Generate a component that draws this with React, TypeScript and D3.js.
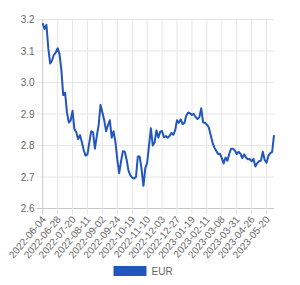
import * as d3 from 'd3';
import React, { useRef, useEffect } from 'react';

// EUR rate (roughly every other business day)
const eurValues: number[] = [
    3.188, 3.17, 3.183, 3.109, 3.06, 3.07, 3.088, 3.095, 3.109, 3.09,
    3.04, 2.96, 2.968, 2.905, 2.873, 2.88, 2.91, 2.852, 2.842, 2.82,
    2.833, 2.81, 2.785, 2.768, 2.772, 2.81, 2.845, 2.842, 2.79, 2.83,
    2.865, 2.929, 2.905, 2.88, 2.845, 2.865, 2.88, 2.825, 2.845, 2.81,
    2.755, 2.712, 2.75, 2.782, 2.78, 2.755, 2.72, 2.705, 2.698, 2.695,
    2.7, 2.765, 2.765, 2.725, 2.672, 2.728, 2.745, 2.8, 2.855, 2.8,
    2.81, 2.848, 2.825, 2.844, 2.846, 2.826, 2.83, 2.825, 2.83, 2.84,
    2.834, 2.848, 2.88, 2.872, 2.883, 2.868, 2.872, 2.895, 2.905, 2.902,
    2.897, 2.9, 2.89, 2.884, 2.89, 2.918, 2.873, 2.872, 2.866, 2.858,
    2.835, 2.81, 2.794, 2.783, 2.773, 2.774, 2.76, 2.743, 2.762, 2.752,
    2.773, 2.79, 2.79, 2.784, 2.773, 2.78, 2.774, 2.76, 2.772, 2.762,
    2.756, 2.757, 2.75, 2.758, 2.733, 2.744, 2.75, 2.752, 2.78, 2.754,
    2.745, 2.767, 2.776, 2.78, 2.833,
];

const dateLabels: string[] = [
    '2022-06-04', '2022-06-28', '2022-07-20', '2022-08-11', '2022-09-02',
    '2022-09-24', '2022-10-19', '2022-11-10', '2022-12-03', '2022-12-27',
    '2023-01-19', '2023-02-11', '2023-03-08', '2023-03-31', '2023-04-26',
    '2023-05-20',
];
const labelStep = 8; // one date label every 8 points

const yTicks: number[] = [2.6, 2.7, 2.8, 2.9, 3.0, 3.1, 3.2];
const seriesName = 'EUR';

const width = 300;
const height = 285;
const lineColor = '#2256bd';

export default function App() {
    const ref = useRef<SVGSVGElement | null>(null);

    useEffect(() => {
        const svg = d3.select(ref.current);
        svg.selectAll('*').remove();

        const m = { left: 42.7, right: 274, top: 19.5, bottom: 208.5 };

        const x = d3
            .scaleLinear()
            .domain([0, eurValues.length - 1])
            .range([m.left, m.right]);
        const y = d3.scaleLinear().domain([2.6, 3.2]).range([m.bottom, m.top]);

        const font = 'Arial, "Liberation Sans", sans-serif';
        const tickIdx = dateLabels.map((_, i) => i * labelStep);

        // horizontal grid
        svg.append('g')
            .selectAll('line')
            .data(yTicks)
            .join('line')
            .attr('x1', m.left - 6)
            .attr('x2', m.right)
            .attr('y1', (d) => y(d))
            .attr('y2', (d) => y(d))
            .attr('stroke', (d) => (d === 2.6 ? '#c8c8c8' : '#e6e6e6'))
            .attr('stroke-width', 1);

        // vertical grid
        svg.append('g')
            .selectAll('line')
            .data(tickIdx)
            .join('line')
            .attr('x1', (d) => x(d))
            .attr('x2', (d) => x(d))
            .attr('y1', m.top)
            .attr('y2', m.bottom + 6)
            .attr('stroke', (d) => (d === 0 ? '#c8c8c8' : '#e6e6e6'))
            .attr('stroke-width', 1);

        // y labels
        svg.append('g')
            .selectAll('text')
            .data(yTicks)
            .join('text')
            .attr('x', m.left - 8)
            .attr('y', (d) => y(d))
            .attr('dy', '0.35em')
            .attr('text-anchor', 'end')
            .style('font-family', font)
            .style('font-size', '10px')
            .attr('fill', '#666')
            .text((d) => d.toFixed(1));

        // x labels, rotated
        svg.append('g')
            .selectAll('text')
            .data(tickIdx)
            .join('text')
            .attr('transform', (d) => `translate(${x(d) + 1}, ${m.bottom + 9}) rotate(-50)`)
            .attr('text-anchor', 'end')
            .attr('dy', '0.35em')
            .style('font-family', font)
            .style('font-size', '10px')
            .attr('fill', '#666')
            .text((_, i) => dateLabels[i]);

        // the line
        const line = d3
            .line<number>()
            .x((_, i) => x(i))
            .y((d) => y(d));

        svg.append('path')
            .datum(eurValues)
            .attr('d', line)
            .attr('fill', 'none')
            .attr('stroke', lineColor)
            .attr('stroke-width', 2)
            .attr('stroke-linejoin', 'round');

        // legend
        const lg = svg.append('g').attr('transform', 'translate(113.5, 266)');
        lg.append('rect')
            .attr('width', 33)
            .attr('height', 10)
            .attr('fill', lineColor);
        lg.append('text')
            .attr('x', 38)
            .attr('y', 5)
            .attr('dy', '0.35em')
            .style('font-family', font)
            .style('font-size', '10px')
            .attr('fill', '#666')
            .text(seriesName);
    }, []);

    return (
        <svg
            ref={ref}
            width={width}
            height={height}
            style={{ position: 'absolute', left: 0, top: 0, background: '#fff' }}
        />
    );
}
